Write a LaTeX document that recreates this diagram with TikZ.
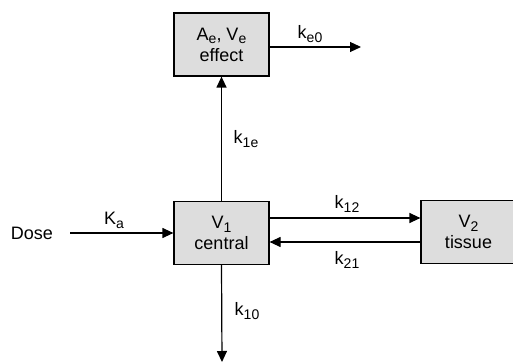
\documentclass[tikz,border=0pt]{standalone}
\usepackage{fontspec}
\setmainfont{Liberation Sans}
\usetikzlibrary{arrows.meta,positioning}
\definecolor{boxgray}{RGB}{221,221,221}
\newcommand{\lowsub}[1]{\raisebox{-0.4ex}{\fontsize{7}{8}\selectfont #1}}

\begin{document}
\begin{tikzpicture}[x=0.5pt, y=-0.5pt, line width=0.6pt,
  every node/.style={font=\fontsize{9}{10.5}\selectfont},
  comp/.style={draw, fill=boxgray, minimum width=47.5pt, minimum height=31.5pt, align=center, inner sep=1pt},
  flow/.style={-{Triangle[length=5.5pt,width=5pt]}}]
\useasboundingbox (0,0) rectangle (513,363);

\node[comp] (effect) at (221.5,44.5) {A\lowsub{e}, V\lowsub{e}\\effect};
\node[comp] (central) at (221.5,233) {V\lowsub{1}\\central};
\node[comp] (tissue) at (468.5,232) {V\lowsub{2}\\tissue};
\node (dose) at (32,233) {Dose};

\coordinate (elim) at (361,47);
\coordinate (out) at (222,362);

% input and elimination
\draw[flow, shorten <=5pt] (dose) -- (central);
\draw[flow] (effect.east |- elim) -- (elim);
\draw[flow] (central) -- (effect);
\draw[flow] (central.south) -- (out);

% exchange with tissue
\draw[flow] (central.east |- 0,218) -- (tissue.west |- 0,218);
\draw[flow] (tissue.west |- 0,242) -- (central.east |- 0,242);

\node at (114,220) (ka) {K\lowsub{a}};
\node at (310,34) (ke0) {k\lowsub{e0}};
\node at (246,139) (k1e) {k\lowsub{1e}};
\node at (247,311) (k10) {k\lowsub{10}};
\node at (347,204) (k12) {k\lowsub{12}};
\node at (347,260) (k21) {k\lowsub{21}};
\end{tikzpicture}
\end{document}
